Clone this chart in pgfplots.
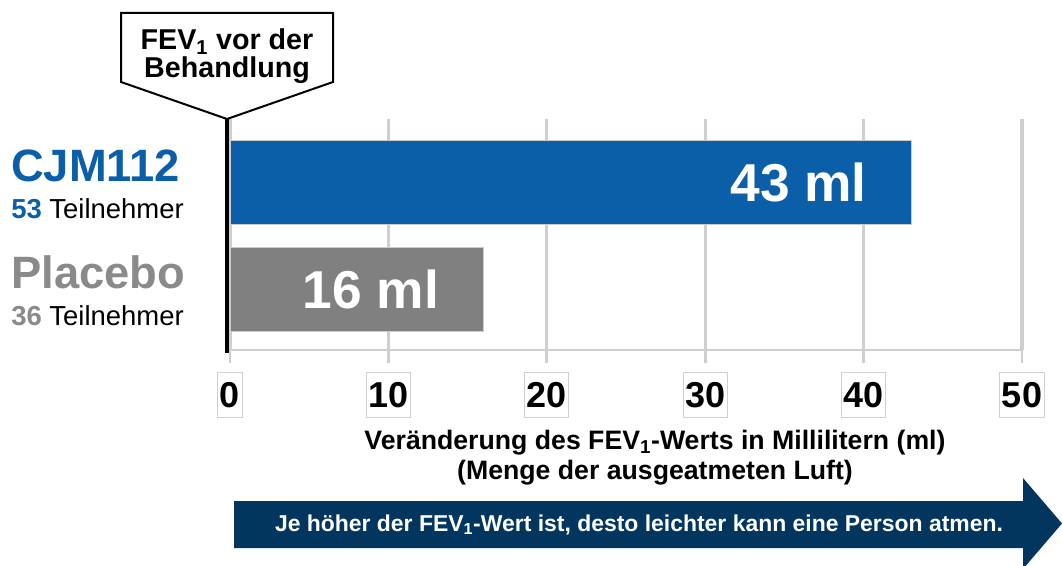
\documentclass[border=0pt]{standalone}
\usepackage{fontspec}
\setmainfont{Liberation Sans}
\usepackage{pgfplots}
\pgfplotsset{compat=1.18}
\definecolor{cjmblue}{HTML}{0A5FA8}
\definecolor{plgray}{HTML}{808080}
\definecolor{lblgray}{HTML}{8A8A8A}
\definecolor{navy}{HTML}{02365F}
\definecolor{gridc}{HTML}{CFCFCF}
\begin{document}
\begin{tikzpicture}
\useasboundingbox (0pt,0pt) rectangle (796.5pt,-424.5pt);
\begin{axis}[
  at={(172.5pt,-262.5pt)}, anchor=south west,
  scale only axis, width=594pt, height=173.25pt,
  xbar, bar width=63pt,
  xmin=0, xmax=50, ymin=0.43, ymax=2.589,
  axis x line*=bottom, axis y line*=left,
  y axis line style={draw=none},
  x axis line style={draw=gridc, line width=2pt},
  xtick={0,10,20,30,40,50},
  ytick={1,2},
  yticklabels={
    {{\fontsize{34}{34}\selectfont\bfseries\color{lblgray}Placebo}\\{\fontsize{20.6}{20.6}\selectfont\textcolor{lblgray}{\bfseries 36} Teilnehmer}},
    {{\fontsize{34}{34}\selectfont\bfseries\color{cjmblue}CJM112}\\{\fontsize{20.6}{20.6}\selectfont\textcolor{cjmblue}{\bfseries 53} Teilnehmer}}
  },
  yticklabel style={anchor=west, xshift=-154.5pt, yshift=-1.5pt, align=left, inner sep=0pt, font=\fontsize{20.6}{27.75}\selectfont},
  major tick length=9.75pt, tick align=outside,
  xtick style={draw=gridc, line width=2pt},
  ytick style={draw=none},
  xmajorgrids, grid style={draw=gridc, line width=2.4pt},
  /pgf/number format/assume math mode=true,
  xticklabel style={font=\bfseries\fontsize{27}{27}\selectfont, draw=gridc, line width=0.75pt,
    inner xsep=1.5pt, inner ysep=7pt, text height=19.4pt, text depth=0pt, anchor=north, yshift=-6.75pt},
  xlabel={Veränderung des FEV\textsubscript{1}-Werts in Millilitern (ml)\\(Menge der ausgeatmeten Luft)},
  xlabel style={at={(axis description cs:0.5366,0)}, anchor=north, yshift=-60pt, align=center,
    inner sep=0pt, font=\bfseries\fontsize{20}{22.5}\selectfont},
  point meta=explicit symbolic,
  nodes near coords,
  every node near coord/.append style={anchor=east, xshift=-33pt, inner sep=0pt, text=white,
    font=\bfseries\fontsize{40}{40}\selectfont},
]
\addplot[fill=cjmblue, draw=black!20, line width=0.5pt, bar shift=0pt] coordinates {(43,2) [43 ml]};
\addplot[fill=plgray, draw=black!20, line width=0.5pt, bar shift=0pt] coordinates {(16,1) [16 ml]};
\end{axis}
\begin{scope}[x=0.75pt,y=-0.75pt]
% baseline marker at value 0
\draw[black, line width=3pt] (227,119) -- (227,353);
% callout
\draw[black, line width=1.5pt, fill=white, line join=miter] (121,13) -- (333,13) -- (333,82) -- (227,119) -- (121,82) -- cycle;
\node[anchor=base, inner sep=0pt, font=\bfseries\fontsize{21.5}{21.5}\selectfont] at (227,50) {FEV\textsubscript{1} vor der};
\node[anchor=base, inner sep=0pt, font=\bfseries\fontsize{21.5}{21.5}\selectfont] at (227,78) {Behandlung};
% bottom arrow
\fill[navy] (234,501) -- (1023,501) -- (1023,478) -- (1062,523.5) -- (1023,569) -- (1023,548) -- (234,548) -- cycle;
\node[anchor=base, inner sep=0pt, text=white, font=\bfseries\fontsize{17.2}{17.2}\selectfont] at (639,531.5) {Je höher der FEV\textsubscript{1}-Wert ist, desto leichter kann eine Person atmen.};
\end{scope}
\end{tikzpicture}
\end{document}
